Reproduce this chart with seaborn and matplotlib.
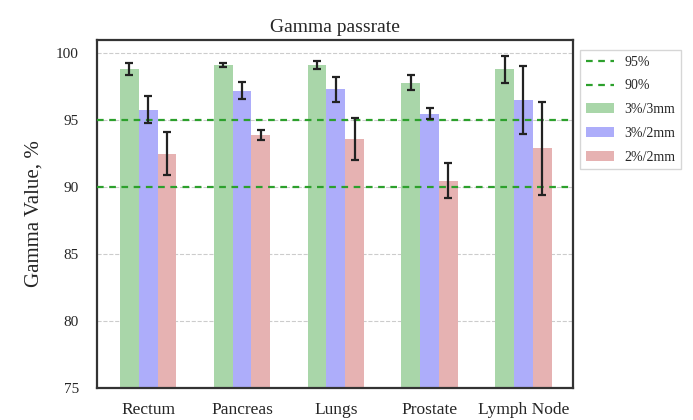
import matplotlib
matplotlib.use('Agg')
import matplotlib.pyplot as plt
import seaborn as sns
import pandas as pd
import numpy as np

organs = ['Rectum', 'Pancreas', 'Lungs', 'Prostate', 'Lymph Node']
criteria = ['3%/3mm', '3%/2mm', '2%/2mm']
mean_333 = [98.8, 99.1, 99.1, 97.8, 98.8]
mean_322 = [95.8, 97.2, 97.3, 95.5, 96.5]
mean_222 = [92.5, 93.9, 93.6, 90.5, 92.9]
err_333 = [0.45, 0.15, 0.3, 0.55, 1.0]
err_322 = [1.0, 0.65, 0.9, 0.4, 2.55]
err_222 = [1.6, 0.35, 1.6, 1.3, 3.45]
colores = ['#a9d6a9', '#adadfa', '#e6b2b2']

df = pd.DataFrame({
    'organ': organs * 3,
    'criterio': np.repeat(criteria, len(organs)),
    'valor': mean_333 + mean_322 + mean_222,
    'err': err_333 + err_322 + err_222,
})

sns.set_style('white')
plt.rcParams['font.family'] = ['Liberation Serif', 'DejaVu Serif']

fig = plt.figure(figsize=(6.93, 4.2), dpi=100)
ax = fig.add_axes([0.14, 0.076, 0.687, 0.829])

sns.barplot(data=df, x='organ', y='valor', hue='criterio', hue_order=criteria,
            palette=colores, width=0.6, errorbar=None, ax=ax, zorder=2,
            linewidth=0, saturation=1)

# barras de error a partir de las barras dibujadas
for cont, crit in zip(ax.containers, criteria):
    sub = df[df['criterio'] == crit]
    xs = [p.get_x() + p.get_width() / 2 for p in cont.patches]
    ax.errorbar(xs, sub['valor'], yerr=sub['err'], fmt='none', ecolor='#222222',
                elinewidth=1.6, capsize=2.6, capthick=1.6, zorder=4)

ax.axhline(95, color='#2ca02c', ls='--', lw=1.6, dashes=(3, 2.5), label='95%', zorder=3)
ax.axhline(90, color='#2ca02c', ls='--', lw=1.6, dashes=(3, 2.5), label='90%', zorder=3)

ax.set_ylim(75, 101)
ax.set_xlim(-0.545, 4.53)
ax.set_yticks([75, 80, 85, 90, 95, 100])
ax.yaxis.grid(True, color='#cccccc', ls='--', lw=0.8, zorder=0)
ax.set_axisbelow(True)
for s in ax.spines.values():
    s.set_color('#333333')
    s.set_linewidth(1.6)
ax.tick_params(axis='x', labelsize=12.5, length=0, pad=10)
ax.tick_params(axis='y', labelsize=11, length=0, pad=13)
ax.set_xlabel('')
ax.set_ylabel('Gamma Value, %', fontsize=15, labelpad=9)
ax.set_title('Gamma passrate', fontsize=14, pad=6)

h, l = ax.get_legend_handles_labels()
orden = [l.index('95%'), l.index('90%')] + [l.index(c) for c in criteria]
ax.legend([h[i] for i in orden], [l[i] for i in orden], loc='upper left',
          bbox_to_anchor=(1.015, 0.971), borderaxespad=0, fontsize=10,
          labelspacing=0.78, frameon=True, edgecolor='#cccccc', fancybox=False)

plt.savefig('out.png', dpi=100)
